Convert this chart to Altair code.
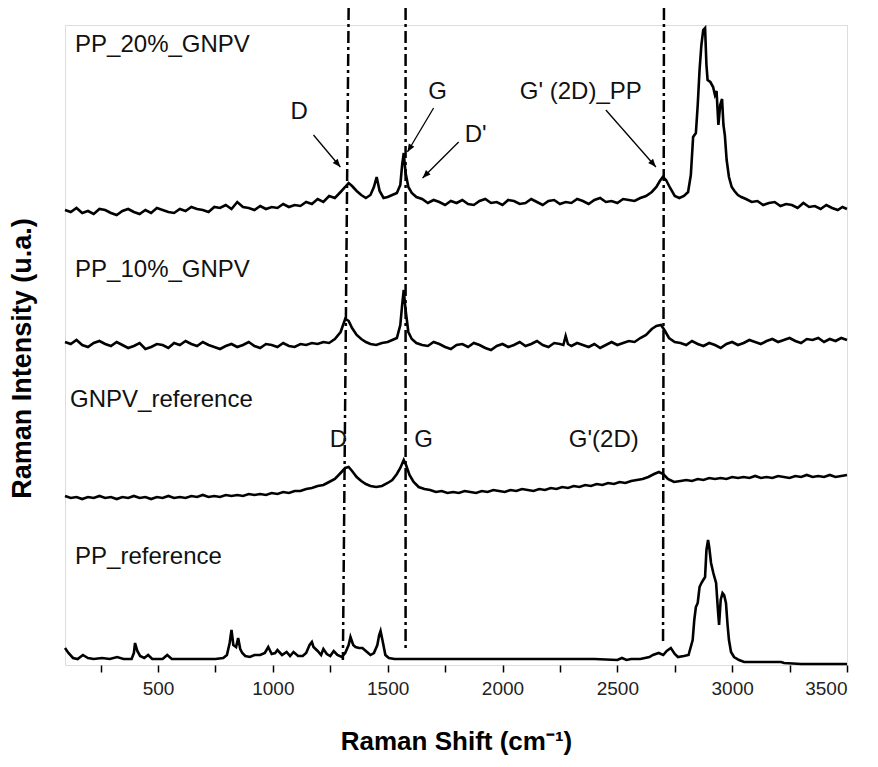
import altair as alt
import pandas as pd

# ---------------- spectra (x: Raman shift, y: offset intensity, a.u.) ----------------
PP20_X = [95,120,145,170,195,220,245,270,295,320,345,370,395,420,445,470,495,520,545,570,
          595,620,645,670,695,720,745,770,795,820,845,870,895,920,945,970,995,1020,1045,1070,
          1095,1120,1145,1170,1195,1220,1245,1270,1295,1315,1330,1345,1365,1385,1405,1425,1440,1452,1465,1482,
          1500,1520,1540,1555,1563,1570,1578,1590,1605,1625,1650,1675,1700,1725,1750,1775,1800,1825,1850,1875,
          1900,1925,1950,1975,2000,2025,2050,2075,2100,2125,2150,2175,2200,2225,2250,2275,2300,2325,2350,2375,
          2400,2425,2450,2475,2500,2525,2550,2575,2600,2625,2650,2670,2685,2698,2712,2730,2750,2770,2790,2808,
          2820,2830,2842,2850,2858,2866,2874,2882,2888,2893,2905,2917,2925,2932,2940,2948,2956,2962,2968,2976,
          2986,2998,3010,3025,3040,3060,3085,3110,3135,3160,3185,3210,3235,3260,3285,3310,3335,3360,3385,3410,
          3435,3460,3480,3500]
PP20_Y = [455,453,457,452,454,451,456,455,452,450,454,456,453,451,455,452,457,455,453,452,
          456,454,458,456,455,453,458,457,460,456,463,458,457,455,459,456,458,457,461,458,
          460,459,463,461,466,463,469,467,473,478,482,479,474,470,467,470,478,488,474,467,
          468,470,472,480,500,512,492,478,472,468,466,462,465,463,460,464,462,465,461,460,
          464,466,462,463,460,465,464,461,462,466,463,460,464,465,461,463,462,466,464,461,
          465,467,463,464,462,466,465,464,467,469,473,478,484,488,485,477,469,467,469,473,
          490,528,532,560,595,620,635,637,600,585,583,578,570,574,540,560,566,540,530,505,
          488,478,474,470,468,466,463,464,460,462,463,459,461,460,457,462,458,459,456,460,
          457,455,458,456]

PP10_X = [95,120,145,170,195,220,245,270,295,320,345,370,395,420,445,470,495,520,545,570,
          595,620,645,670,695,720,745,770,795,820,845,870,895,920,945,970,995,1020,1045,1070,
          1095,1120,1145,1170,1195,1220,1245,1270,1295,1315,1330,1345,1365,1385,1405,1425,1450,1475,1500,1520,
          1540,1555,1563,1570,1578,1590,1605,1625,1650,1675,1700,1725,1750,1775,1800,1825,1850,1875,1900,1925,
          1950,1975,2000,2025,2050,2075,2100,2125,2150,2175,2200,2225,2250,2265,2275,2285,2300,2325,2350,2375,
          2400,2425,2450,2475,2500,2525,2550,2575,2600,2625,2650,2670,2690,2705,2725,2750,2775,2800,2825,2850,
          2875,2900,2925,2950,2975,3000,3025,3050,3075,3100,3125,3150,3175,3200,3225,3250,3275,3300,3325,3350,
          3375,3400,3425,3450,3475,3500]
PP10_Y = [323,321,325,320,318,322,324,321,319,323,320,317,319,322,316,318,321,320,317,322,
          320,324,321,319,323,320,318,316,319,321,318,320,323,319,317,321,320,318,322,319,
          318,321,320,322,321,323,322,326,333,346,344,337,330,326,323,321,320,322,323,325,
          327,340,360,375,355,333,326,322,320,319,323,321,318,316,320,321,318,322,320,317,
          315,319,321,318,320,323,319,321,324,320,318,322,321,320,329,321,319,322,320,318,
          321,317,320,323,320,322,324,323,327,330,336,339,340,335,327,323,322,320,324,321,
          319,322,320,317,321,323,320,322,325,323,321,324,326,323,325,327,324,322,326,325,
          327,323,326,324,327,325]

GNPV_X = [95,120,145,170,195,220,245,270,295,320,345,370,395,420,445,470,495,520,545,570,
          595,620,645,670,695,720,745,770,795,820,845,870,895,920,945,970,995,1020,1045,1070,
          1095,1120,1145,1170,1195,1220,1245,1270,1295,1315,1330,1345,1365,1385,1405,1425,1450,1475,1500,1520,
          1540,1555,1570,1580,1595,1613,1635,1660,1685,1710,1735,1760,1785,1810,1835,1860,1885,1910,1935,1960,
          1985,2010,2035,2060,2085,2110,2135,2160,2185,2210,2235,2260,2285,2310,2335,2360,2385,2410,2435,2460,
          2485,2510,2535,2560,2585,2610,2635,2660,2681,2700,2720,2747,2775,2800,2825,2850,2875,2900,2925,2950,
          2975,3000,3025,3050,3075,3100,3125,3150,3175,3200,3225,3250,3275,3300,3325,3350,3375,3400,3425,3450,
          3475,3500]
GNPV_Y = [169,167,168,166,168,167,169,167,168,166,168,167,169,167,168,166,168,167,169,167,
          168,167,169,168,170,168,169,168,170,169,170,169,171,170,171,170,172,171,173,172,
          174,174,176,177,179,180,183,186,192,197,198,194,188,184,181,179,178,179,182,185,
          191,197,205,200,190,183,178,176,175,173,174,172,173,172,174,173,172,174,173,175,
          174,173,175,174,176,175,174,176,175,177,176,178,177,179,178,180,179,181,180,182,
          181,183,182,184,185,186,188,191,193,191,186,183,184,185,184,186,185,187,186,187,
          186,188,187,188,187,189,187,188,187,189,188,187,189,188,190,188,189,188,190,188,
          189,190]

PPREF_X = [95,110,130,150,173,195,220,256,290,322,350,385,395,400,410,422,440,457,475,500,
           520,540,560,600,650,700,750,784,800,812,820,828,840,849,858,867,880,900,920,945,
           965,980,995,1010,1020,1040,1060,1075,1090,1110,1130,1145,1160,1170,1177,1195,1210,1220,1235,1250,
           1265,1281,1300,1315,1330,1338,1350,1360,1375,1390,1405,1425,1440,1455,1463,1469,1478,1490,1505,1530,
           1600,1800,2000,2200,2400,2500,2520,2540,2560,2600,2640,2655,2680,2700,2715,2733,2750,2764,2790,2810,
           2828,2835,2842,2850,2858,2866,2874,2882,2888,2895,2900,2908,2918,2930,2938,2943,2950,2958,2965,2973,
           2980,2986,2995,3008,3030,3052,3100,3150,3213,3226,3300,3400,3500]
PPREF_Y = [17,12,7,6,10,7,6,7,6,8,6,6,12,22,14,9,7,10,6,6,
           6,10,6,6,6,6,6,7,10,22,35,20,18,27,16,12,9,8,10,10,
           12,18,11,12,15,10,13,9,13,9,9,12,20,23,18,14,10,16,11,9,
           14,10,8,12,20,28,20,18,17,17,14,10,12,20,30,34,24,10,7,6,
           6,6,6,6,6,5,7,5,6,6,8,10,12,10,14,17,11,8,9,10,
           25,45,58,62,78,82,85,88,115,125,118,102,92,82,55,40,65,72,70,62,
           40,25,13,8,5,3,3,3,3,2,1,1,1]

SERIES = [("PP_20%_GNPV", PP20_X, PP20_Y), ("PP_10%_GNPV", PP10_X, PP10_Y),
          ("GNPV_reference", GNPV_X, GNPV_Y), ("PP_reference", PPREF_X, PPREF_Y)]

# ---------------- annotations ----------------
NAME_TEXT = ["PP_20%_GNPV", "PP_10%_GNPV", "GNPV_reference", "PP_reference"]
NAME_X = [139, 139, 117, 139]
NAME_Y = [620, 395, 265, 108]

PEAK_TEXT = ["D", "G", "D'", "G' (2D)_PP", "D", "G", "G'(2D)"]
PEAK_X = [1115, 1717, 1883, 2341, 1286, 1656, 2441]
PEAK_Y = [553, 573, 530, 573, 225, 225, 225]

ARROW_X0 = [1177, 1700, 1809, 2450]
ARROW_Y0 = [530, 557, 523, 555]
ARROW_X1 = [1294, 1586, 1652, 2668]
ARROW_Y1 = [498, 513, 487, 498]
ARROW_ANGLE = [140, 211, 225, 139]

VLINE_TOP_X = [1330, 1578, 2703]
VLINE_BOT_X = [1305, 1578, 2699]
VLINE_TOP = [657, 657, 657]
VLINE_BOT = [5, 17, 22]

FONT = "Liberation Sans"
XDOM = [95, 3500]
YDOM = [0, 640]

rows = []
for name, xs, ys in SERIES:
    for i, (xv, yv) in enumerate(zip(xs, ys)):
        rows.append({"series": name, "i": i, "x": xv, "y": yv})
spec = pd.DataFrame(rows)

xscale = alt.Scale(domain=XDOM, nice=False, zero=False)
yscale = alt.Scale(domain=YDOM, nice=False, zero=False)

xaxis = alt.Axis(
    title="Raman Shift (cm⁻¹)",
    values=[250, 500, 750, 1000, 1250, 1500, 1750, 2000, 2250, 2500, 2750, 3000, 3250, 3500],
    format="d",
    labelExpr="datum.value % 500 == 0 ? datum.label : ''",
    tickSize=7, tickWidth=1.5, tickColor="black",
    domain=False, grid=False,
    labelFont=FONT, labelFontSize=19, labelColor="#222222", labelPadding=7,
    titleFont=FONT, titleFontSize=26, titleFontWeight="bold", titleColor="black",
    titlePadding=30,
)
yaxis = alt.Axis(
    title="Raman Intensity (u.a.)", labels=False, ticks=False, domain=False, grid=False,
    titleFont=FONT, titleFontSize=27, titleFontWeight="bold", titleColor="black",
    titleX=-43, titleY=333, titleBaseline="middle", titleAlign="center", titleAngle=270,
)

X = lambda f: alt.X(f, type="quantitative", scale=xscale, axis=xaxis)
Y = lambda f: alt.Y(f, type="quantitative", scale=yscale, axis=yaxis)

lines = alt.Chart(spec).mark_line(color="black", strokeWidth=2.6, strokeJoin="miter").encode(
    x=X("x"), y=Y("y"), detail="series:N", order="i:Q"
)

vl = pd.DataFrame({"x0": VLINE_TOP_X, "x1": VLINE_BOT_X, "t": VLINE_TOP, "b": VLINE_BOT})
vlines = alt.Chart(vl).mark_rule(color="black", strokeWidth=2.5, strokeDash=[12, 4, 3, 4]).encode(
    x=X("x0"), x2="x1", y=Y("t"), y2="b"
)

names = pd.DataFrame({"t": NAME_TEXT, "x": NAME_X, "y": NAME_Y})
name_txt = alt.Chart(names).mark_text(
    align="left", baseline="middle", font=FONT, fontSize=24, color="#111111"
).encode(x=X("x"), y=Y("y"), text="t:N")

peaks = pd.DataFrame({"t": PEAK_TEXT, "x": PEAK_X, "y": PEAK_Y})
peak_txt = alt.Chart(peaks).mark_text(
    align="center", baseline="middle", font=FONT, fontSize=24, color="#111111"
).encode(x=X("x"), y=Y("y"), text="t:N")

arr = pd.DataFrame({"x0": ARROW_X0, "y0": ARROW_Y0, "x1": ARROW_X1, "y1": ARROW_Y1, "a": ARROW_ANGLE})
shafts = alt.Chart(arr).mark_rule(color="black", strokeWidth=1.3).encode(
    x=X("x0"), y=Y("y0"), x2="x1", y2="y1"
)
heads = alt.Chart(arr).mark_point(
    shape="M0,0 L-0.4,1 L0.4,1 Z", filled=True, color="black", size=260, opacity=1
).encode(x=X("x1"), y=Y("y1"), angle=alt.Angle("a:Q", scale=None))

chart = alt.layer(lines, vlines, name_txt, peak_txt, shafts, heads).properties(
    width=782, height=640,
    autosize=alt.AutoSizeParams(type="none"),
    padding={"left": 57, "top": 17, "right": 20, "bottom": 90},
).configure_view(stroke="black", strokeWidth=1.5).configure(background="white")

chart.save("out.html", embed_options={"renderer": "svg", "actions": False})
